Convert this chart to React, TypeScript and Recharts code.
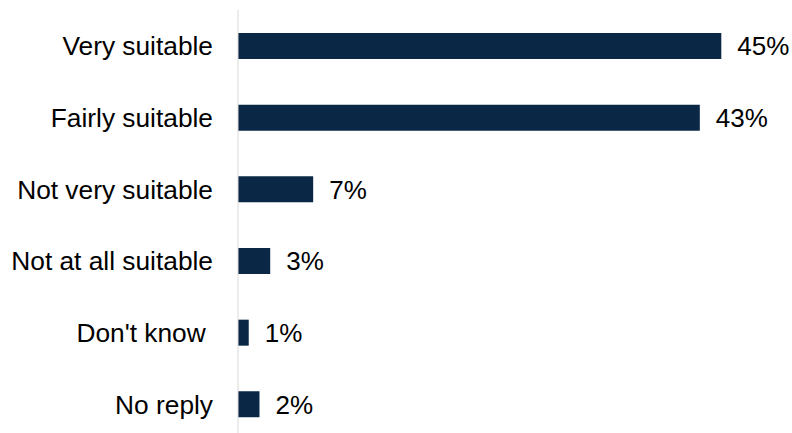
import React from "react"
import { BarChart, Bar, XAxis, YAxis, LabelList } from "recharts"

const categories = ["Very suitable", "Fairly suitable", "Not very suitable", "Not at all suitable", "Don't know\u00a0", "No reply"]
const shares = [45, 43, 7, 3, 1, 2]

const data = categories.map((name, i) => ({ name, value: shares[i] }))

const font = "'Liberation Sans', Arial, sans-serif"

export default function App() {
  return (
    <div
      style={{
        position: "fixed",
        top: 0,
        left: 0,
        width: 792,
        height: 433,
        overflow: "hidden",
        background: "#fff",
        fontFamily: font,
      }}
    >
      <BarChart
        width={792}
        height={440}
        data={data}
        layout="vertical"
        margin={{ top: 10, right: 17, left: 0, bottom: 0 }}
      >
        <XAxis type="number" domain={[0, 50]} hide />
        <YAxis
          type="category"
          dataKey="name"
          width={238}
          tickLine={false}
          tickSize={0}
          tickMargin={25}
          axisLine={{ stroke: "#d9d9d9", strokeWidth: 1 }}
          tick={{ fontSize: 26.3, fill: "#000", fontFamily: font }}
          interval={0}
        />
        <Bar dataKey="value" fill="#0a2846" barSize={26} isAnimationActive={false}>
          <LabelList
            dataKey="value"
            position="right"
            offset={16}
            formatter={(v: any) => `${v}%`}
            style={{ fontSize: 26, fill: "#000", fontFamily: font }}
          />
        </Bar>
      </BarChart>
    </div>
  )
}
